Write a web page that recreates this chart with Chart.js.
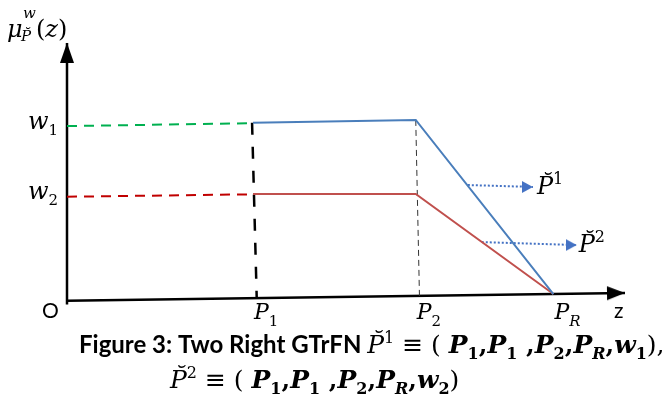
<!DOCTYPE html>
<html>
<head>
<meta charset="utf-8">
<script src="https://cdn.jsdelivr.net/npm/chart.js@4.4.1/dist/chart.umd.min.js"></script>
<style>
  html, body { margin: 0; padding: 0; background: #fff; }
  #wrap { width: 666px; height: 398px; }
</style>
</head>
<body>
<div id="wrap"><canvas id="chart" width="666" height="398"></canvas></div>
<script>
// z positions of the breakpoints (P1, P2, PR) and their tick subscripts
const zTicks = [2, 3.75, 5.23];
const zTickSubs = ["1", "2", "R"];

// membership heights w1, w2
const wLevels = [1.0, 0.6];
const wSubs = ["1", "2"];

// P~1 (blue) and P~2 (red) right GTrFN
const p1Z = [2, 3.75, 5.23];
const p1Mu = [1.013, 1.029, 0.034];
const p2Z = [2, 3.75, 5.23];
const p2Mu = [0.606, 0.606, 0.034];

// dashed guides
const guideW1Z = [0, 2];
const guideW1Mu = [0.994, 1.01];
const guideW2Z = [0, 2];
const guideW2Mu = [0.59, 0.604];
const guideP1Z = [1.99, 2.04];
const guideP1Mu = [1.013, 0.011];
const guideP2Z = [3.75, 3.79];
const guideP2Mu = [1.029, 0.019];

// axes
const xAxisZ = [0, 6.0];
const xAxisMu = [-0.004, 0.04];
const yAxisZ = [0, 0];
const yAxisMu = [-0.025, 1.469];

// pointer arrows to the curve names
const arrow1Z = [4.31, 5.01];
const arrow1Mu = [0.657, 0.646];
const arrow2Z = [4.46, 5.48];
const arrow2Mu = [0.331, 0.314];

const MATH = "'DejaVu Serif'";
const it = s => `italic ${s}px ${MATH}`;
const bi = s => `italic bold ${s}px ${MATH}`;
const up = s => `${s}px ${MATH}`;
const ub = s => `bold ${s}px ${MATH}`;

function pts(xs, ys) {
  return xs.map((x, i) => ({ x: x, y: ys[i] }));
}

// arrow head bitmap pointing right, tip at the centre of the canvas
function arrowHead(len, half, color) {
  const c = document.createElement("canvas");
  c.width = len * 2;
  c.height = half * 2;
  const g = c.getContext("2d");
  g.fillStyle = color;
  g.beginPath();
  g.moveTo(0, 0);
  g.lineTo(len, half);
  g.lineTo(0, half * 2);
  g.closePath();
  g.fill();
  return c;
}

const blackHead = arrowHead(18, 7, "#000");
const blueHead = arrowHead(11, 6, "#4472c4");

function line(data, color, width, dash, head, rot) {
  const n = data.length;
  return {
    data: data,
    showLine: true,
    borderColor: color,
    borderWidth: width,
    borderDash: dash || [],
    borderCapStyle: "butt",
    tension: 0,
    fill: false,
    pointRadius: ctx => (head && ctx.dataIndex === n - 1 ? 3 : 0),
    pointStyle: ctx => (head && ctx.dataIndex === n - 1 ? head : "circle"),
    rotation: rot || 0
  };
}

function drawRich(ctx, x, y, parts, align) {
  let w = 0;
  parts.forEach(p => { ctx.font = p[1]; w += ctx.measureText(p[0]).width; });
  let cx = align === "right" ? x - w : align === "center" ? x - w / 2 : x;
  parts.forEach(p => {
    ctx.font = p[1];
    ctx.fillText(p[0], cx, y + (p[2] || 0));
    cx += ctx.measureText(p[0]).width;
  });
}

// subscripts: digits upright, letters italic
const subUp = (t, s) => (/\d/.test(t) ? up(s) : it(s));
const subB = (t, s) => (/\d/.test(t) ? ub(s) : bi(s));

function tuple(sup, last, close) {
  const parts = [["P\u0306", it(25)], [sup, up(16), -10], [" \u2261 ( ", up(25)]];
  ["1", "1", "2", "R"].forEach((s, i) => {
    parts.push(["P", bi(25)], [s, subB(s, 16), 6], [i === 1 ? " ," : ",", ub(25)]);
  });
  parts.push(["w", bi(25)], [last, ub(16), 6], [close, up(25)]);
  return parts;
}

const labels = {
  id: "labels",
  afterDraw(chart) {
    const ctx = chart.ctx;
    const xs = chart.scales.x, ys = chart.scales.y;
    ctx.save();
    ctx.fillStyle = "#000";
    ctx.textBaseline = "alphabetic";

    // y axis title
    drawRich(ctx, 7, 37, [["\u03bc", it(24)]]);
    drawRich(ctx, 23, 18, [["w", it(15)]]);
    drawRich(ctx, 21, 41, [["P\u0306", it(15)]]);
    drawRich(ctx, 36, 37, [["(", up(24)], ["z", it(24)], [")", up(24)]]);

    // w levels
    wLevels.forEach((w, i) => {
      const py = ys.getPixelForValue(w);
      drawRich(ctx, 58, py + 4, [["w", it(24)], [wSubs[i], up(15), 6]], "right");
    });

    // z ticks
    zTicks.forEach((z, i) => {
      const px = xs.getPixelForValue(z);
      const s = zTickSubs[i];
      drawRich(ctx, px + 1, 319, [["P", it(22)], [s, subUp(s, 15), 7]]);
    });

    ctx.font = "21px Lato";
    ctx.fillText("O", 42, 318);
    ctx.fillText("z", 614, 318);

    // curve names at the pointer tips
    const a1x = xs.getPixelForValue(arrow1Z[1]), a1y = ys.getPixelForValue(arrow1Mu[1]);
    drawRich(ctx, a1x + 4, a1y + 7, [["P\u0306", it(24)], ["1", up(16), -10]]);
    const a2x = xs.getPixelForValue(arrow2Z[1]), a2y = ys.getPixelForValue(arrow2Mu[1]);
    drawRich(ctx, a2x + 2, a2y + 7, [["P\u0306", it(24)], ["2", up(16), -10]]);

    // caption
    drawRich(ctx, 79, 353, [["Figure 3: Two Right GTrFN ", "bold 24px Lato"]].concat(tuple("1", "1", "),")));
    drawRich(ctx, 170, 388, tuple("2", "2", ")"));
    ctx.restore();
  }
};

new Chart(document.getElementById("chart"), {
  type: "scatter",
  data: {
    datasets: [
      line(pts(p1Z, p1Mu), "#4a7ebb", 2),
      line(pts(p2Z, p2Mu), "#c0504d", 2),
      line(pts(guideW1Z, guideW1Mu), "#00b050", 2, [10, 7]),
      line(pts(guideW2Z, guideW2Mu), "#c00000", 2, [10, 7]),
      line(pts(guideP1Z, guideP1Mu), "#000", 2.5, [12, 12]),
      line(pts(guideP2Z, guideP2Mu), "#333", 1, [6, 4]),
      line(pts(arrow1Z, arrow1Mu), "#4472c4", 2, [2, 2], blueHead, 0),
      line(pts(arrow2Z, arrow2Mu), "#4472c4", 2, [2, 2], blueHead, 0),
      line(pts(xAxisZ, xAxisMu), "#000", 2.5, null, blackHead, -0.7),
      line(pts(yAxisZ, yAxisMu), "#000", 2.5, null, arrowHead(20, 7, "#000"), -90)
    ]
  },
  options: {
    responsive: false,
    animation: false,
    events: [],
    layout: { padding: 0, autoPadding: false },
    plugins: { legend: { display: false }, tooltip: { enabled: false } },
    scales: {
      x: { type: "linear", display: false, min: -67 / 93, max: 599 / 93 },
      y: { type: "linear", display: false, min: -98 / 175, max: 300 / 175 }
    }
  },
  plugins: [labels]
});
</script>
</body>
</html>
